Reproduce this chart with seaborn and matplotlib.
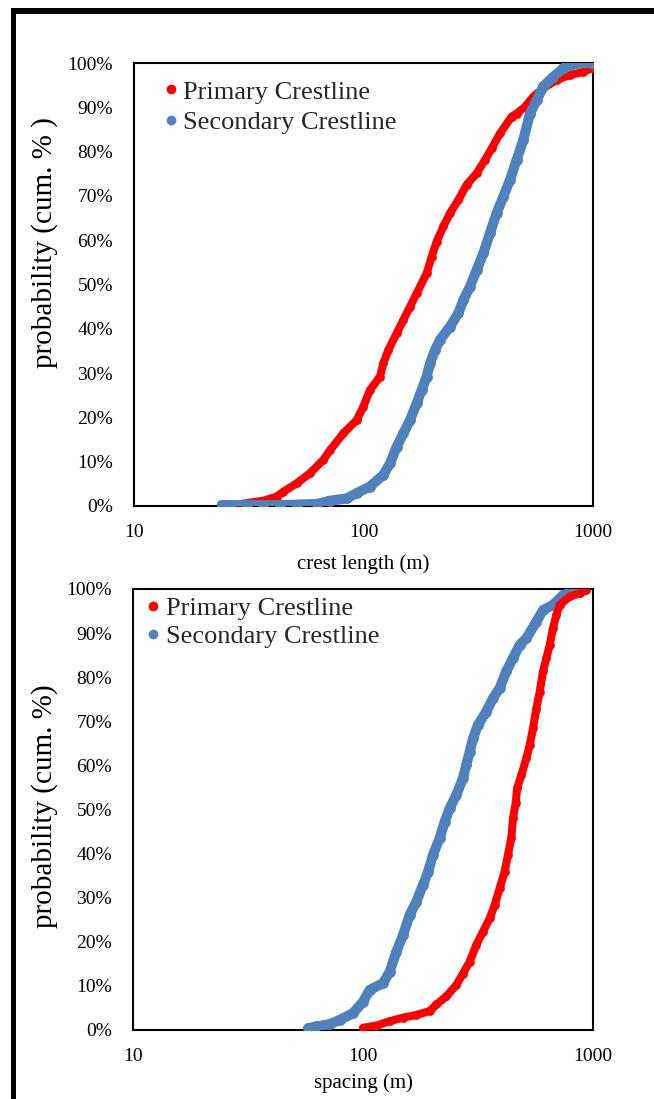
import numpy as np
import pandas as pd
import matplotlib
matplotlib.use("Agg")
import matplotlib.pyplot as plt
import seaborn as sns
from matplotlib.lines import Line2D
from matplotlib.patches import Rectangle

# ---------------- data ----------------
series_names = ["Primary Crestline", "Secondary Crestline"]

crest_primary_x = [28, 36.6, 41.8, 44.7, 51.1, 58.5, 66.8, 71.5, 81.7, 93.4, 99.8, 106.7,
                   118, 122, 128.3, 139.5, 149.2, 159.5, 170.5, 188.4, 198.2, 208.4, 222.8,
                   238.2, 259, 281.5, 311.2, 338.3, 361.8, 393.4, 442.3, 465, 505.4, 549.5,
                   607.6, 694.6, 794, 907.8, 986.5]
crest_primary_y = [0.3, 1.2, 2.1, 3.2, 5.1, 7.4, 10.4, 12.6, 16.4, 19.4, 22.4, 26.2,
                   29.2, 32.2, 35.2, 39.0, 42.0, 45.0, 48.0, 52.5, 56.3, 59.7, 63.1,
                   66.1, 69.1, 72.5, 75.1, 78.1, 80.7, 84.1, 87.9, 88.6, 90.1, 92.4,
                   94.3, 96.2, 97.3, 98.0, 98.8]

crest_secondary_x = [24.1, 26.2, 31.0, 36.6, 43.3, 51.1, 62.5, 71.5, 84.5, 93.4, 106.7, 122,
                     130.5, 139.5, 149.2, 159.5, 170.5, 179.3, 188.4, 195, 204.9, 215.4,
                     238.2, 259, 272.3, 291.1, 311.2, 332.7, 355.6, 380.2, 406.4, 434.5,
                     464.5, 496.6, 531.5, 568.2, 607.6, 671.4, 742.6, 849, 986.5]
crest_secondary_y = [0.2, 0.2, 0.2, 0.2, 0.2, 0.3, 0.45, 1.2, 1.7, 2.9, 4.4, 7.0,
                     9.6, 13.4, 16.4, 19.4, 23.2, 26.2, 29.2, 32.2, 35.2, 37.5,
                     40.5, 43.5, 46.5, 49.5, 53.3, 57.0, 61.6, 66.1, 69.8, 73.6,
                     78.1, 82.6, 88.6, 91.6, 94.7, 96.9, 98.8, 99.9, 100]

spacing_primary_x = [100, 114.3, 130.6, 149.3, 170.6, 195, 208.5, 230.3, 254.5, 272.1, 290.9,
                     311, 332.4, 355.4, 373.5, 392.6, 412.7, 426.8, 441.3, 448.8, 461.2,
                     467.7, 488, 513, 530.5, 548.5, 567.1, 586.4, 606.3, 626.9, 648.2,
                     670.1, 692.9, 716.4, 792.4, 876.1, 935.3]
spacing_primary_y = [0.5, 1.0, 2.0, 2.8, 3.4, 4.3, 5.8, 7.6, 10.2, 12.8, 15.5,
                     19.3, 22.3, 25.3, 28.3, 32.1, 35.9, 39.7, 43.5, 48.0, 51.4,
                     54.8, 57.8, 61.6, 64.6, 68.4, 72.9, 76.7, 81.3, 84.3, 87.3,
                     91.1, 94.1, 96.4, 98.3, 99.0, 99.8]

spacing_secondary_x = [57.7, 62.7, 71.6, 79.2, 90.5, 100, 107, 122.2, 130.6, 139.7, 149.3,
                       159.6, 170.6, 182.4, 191.9, 201.5, 215.4, 226.5, 238.2, 254.5, 272.1,
                       281.3, 290.9, 300.9, 316.2, 343.6, 367.4, 392.6, 419.7, 448.8, 479.7,
                       513, 567.1, 606.3, 670.1, 741.3, 818.8, 905.1]
spacing_secondary_y = [0.4, 0.8, 1.3, 2.3, 3.8, 6.4, 9.1, 10.6, 13.2, 17.8, 21.5,
                       26.1, 29.1, 32.9, 35.9, 39.7, 43.5, 47.2, 50.3, 53.3, 57.1,
                       60.1, 63.1, 66.1, 69.2, 72.2, 75.2, 77.5, 81.3, 84.3, 87.3,
                       88.8, 92.6, 95.2, 96.4, 98.6, 99.4, 100]

x_ticks = [10, 100, 1000]
x_tick_labels = ["10", "100", "1000"]
y_ticks = [0, 10, 20, 30, 40, 50, 60, 70, 80, 90, 100]
y_tick_labels = ["0%", "10%", "20%", "30%", "40%", "50%", "60%", "70%", "80%", "90%", "100%"]

colors = {"Primary Crestline": "#FF0000", "Secondary Crestline": "#4F81BD"}


def frame(px, py, sx, sy):
    a = pd.DataFrame({"x": px, "y": py, "series": series_names[0]})
    b = pd.DataFrame({"x": sx, "y": sy, "series": series_names[1]})
    return a, b


# ---------------- style ----------------
sns.set_theme(style="white")
plt.rcParams["font.family"] = ["Liberation Serif", "DejaVu Serif"]
plt.rcParams["axes.edgecolor"] = "black"
plt.rcParams["axes.linewidth"] = 1.5

W, H = 654, 1099
fig = plt.figure(figsize=(W / 100, H / 100), dpi=100)
fig.patch.set_facecolor("white")

ax1 = fig.add_axes([134 / W, (H - 506) / H, 459 / W, 443 / H])
ax2 = fig.add_axes([133 / W, (H - 1030) / H, 460 / W, 441 / H])

panels = [
    (ax1, frame(crest_primary_x, crest_primary_y, crest_secondary_x, crest_secondary_y),
     "crest length (m)", "probability (cum. % )", False),
    (ax2, frame(spacing_primary_x, spacing_primary_y, spacing_secondary_x, spacing_secondary_y),
     "spacing (m)", "probability (cum. %)", True),
]

sizes = {"Primary Crestline": (5.8, 6.3), "Secondary Crestline": (7.3, 7.8)}

for ax, (dp, ds), xlabel, ylabel, red_on_top in panels:
    zp, zs = (4, 3) if red_on_top else (3, 4)
    for d, z in ((dp, zp), (ds, zs)):
        name = d["series"].iloc[0]
        lw, ms = sizes[name]
        sns.lineplot(data=d, x="x", y="y", ax=ax, sort=False, estimator=None,
                     color=colors[name], lw=lw, marker="o", markersize=ms,
                     markeredgewidth=0, solid_capstyle="round", solid_joinstyle="round",
                     zorder=z, legend=False)
    ax.set_xscale("log")
    ax.set_xlim(10, 1000)
    ax.set_ylim(0, 100)
    ax.set_xticks(x_ticks)
    ax.set_xticklabels(x_tick_labels)
    ax.minorticks_off()
    ax.set_yticks(y_ticks)
    ax.set_yticklabels(y_tick_labels)
    ax.tick_params(axis="both", which="major", direction="out", length=5, width=1.5,
                   color="black", labelsize=14, labelcolor="black")
    ax.tick_params(axis="y", pad=10)
    ax.tick_params(axis="x", pad=8)
    for s in ax.spines.values():
        s.set_visible(True)
        s.set_color("black")
        s.set_linewidth(1.5)
    ax.set_xlabel(xlabel, fontsize=15, color="black")
    ax.set_ylabel(ylabel, fontsize=21, color="black")
    ax.grid(False)

ax1.xaxis.set_label_coords(0.5, -0.11)
ax2.xaxis.set_label_coords(0.5, -0.097)
ax1.yaxis.set_label_coords(-0.165, 0.594)
ax2.yaxis.set_label_coords(-0.163, 0.508)


def legend_handles():
    return [Line2D([], [], ls="none", marker="o", markersize=7, markeredgewidth=0,
                   color=colors[n], label=n) for n in series_names]


ax1.legend(handles=legend_handles(), loc="upper left", bbox_to_anchor=(0.063, 0.9615),
           frameon=False, fontsize=19, handlelength=0.6, handletextpad=0.16,
           labelspacing=0.27, borderpad=0, borderaxespad=0)
ax2.legend(handles=legend_handles(), loc="upper left", bbox_to_anchor=(0.0257, 0.982),
           frameon=False, fontsize=19, handlelength=0.6, handletextpad=0.2,
           labelspacing=0.15, borderpad=0, borderaxespad=0)

# figure border (thick left and top bars)
fig.add_artist(Rectangle((11 / W, 0), 5 / W, (H - 8) / H, transform=fig.transFigure,
                         facecolor="black", edgecolor="none"))
fig.add_artist(Rectangle((11 / W, (H - 14) / H), (W - 11) / W, 6 / H,
                         transform=fig.transFigure, facecolor="black", edgecolor="none"))

fig.savefig("out.png", dpi=100, facecolor="white")
